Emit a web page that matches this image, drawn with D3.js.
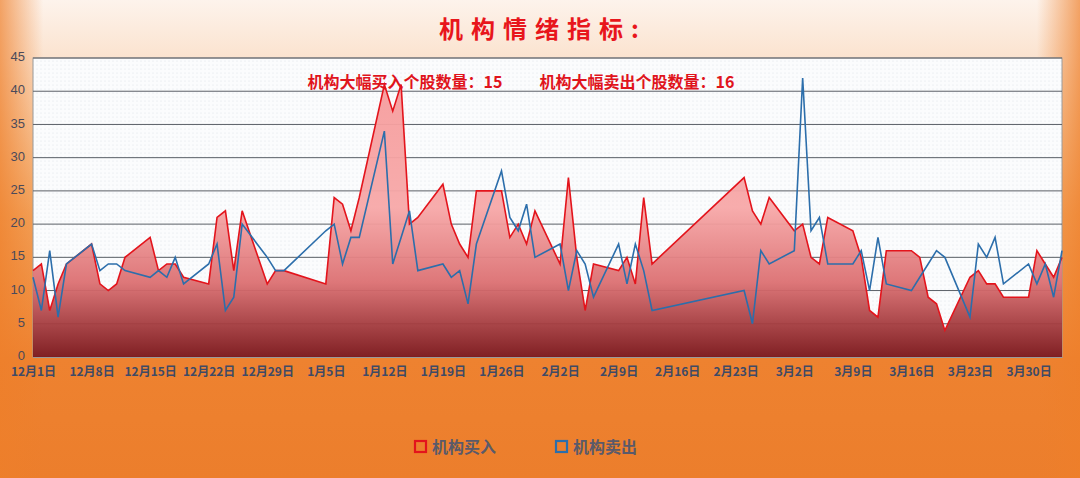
<!DOCTYPE html>
<html><head><meta charset="utf-8">
<script src="https://cdn.jsdelivr.net/npm/d3@7/dist/d3.min.js"></script>
<style>body{margin:0;}svg{display:block;}</style></head>
<body><svg id="c" width="1080" height="478"></svg>
<script>
const dates = ["2025-12-01","2025-12-02","2025-12-03","2025-12-04","2025-12-05",
"2025-12-08","2025-12-09","2025-12-10","2025-12-11","2025-12-12",
"2025-12-15","2025-12-16","2025-12-17","2025-12-18","2025-12-19",
"2025-12-22","2025-12-23","2025-12-24","2025-12-25","2025-12-26",
"2025-12-29","2025-12-30","2025-12-31",
"2026-01-05","2026-01-06","2026-01-07","2026-01-08","2026-01-09",
"2026-01-12","2026-01-13","2026-01-14","2026-01-15","2026-01-16",
"2026-01-19","2026-01-20","2026-01-21","2026-01-22","2026-01-23",
"2026-01-26","2026-01-27","2026-01-28","2026-01-29","2026-01-30",
"2026-02-02","2026-02-03","2026-02-04","2026-02-05","2026-02-06",
"2026-02-09","2026-02-10","2026-02-11","2026-02-12","2026-02-13",
"2026-02-24","2026-02-25","2026-02-26","2026-02-27",
"2026-03-02","2026-03-03","2026-03-04","2026-03-05","2026-03-06",
"2026-03-09","2026-03-10","2026-03-11","2026-03-12","2026-03-13",
"2026-03-16","2026-03-17","2026-03-18","2026-03-19","2026-03-20",
"2026-03-23","2026-03-24","2026-03-25","2026-03-26","2026-03-27",
"2026-03-30","2026-03-31","2026-04-01","2026-04-02","2026-04-03"];
const buyValues = [13,14,7,11,14, 17,11,10,11,15, 18,13,14,14,12, 11,21,22,13,22, 11,13,13,
11,24,23,19,24, 41,37,41,20,21, 26,20,17,15,25, 25,18,20,17,22, 14,27,15,7,14, 13,15,11,24,14,
27,22,20,24, 19,20,15,14,21, 19,15,7,6,16, 16,15,9,8,4, 12,13,11,11,9, 9,16,14,12,15];
const sellValues = [12,7,16,6,14, 17,13,14,14,13, 12,13,12,15,11, 14,17,7,9,20, 15,13,13,
19,20,14,18,18, 34,14,18,22,13, 14,12,13,8,17, 28,21,19,23,15, 17,10,16,14,9, 17,11,17,13,7,
10,5,16,14, 16,42,19,21,14, 14,16,10,18,11, 10,12,14,16,15, 6,17,15,18,11, 14,11,14,9,16];
const yTicks = [0,5,10,15,20,25,30,35,40,45];
const xTickDates = ["2025-12-01","2025-12-08","2025-12-15","2025-12-22","2025-12-29","2026-01-05","2026-01-12","2026-01-19","2026-01-26","2026-02-02","2026-02-09","2026-02-16","2026-02-23","2026-03-02","2026-03-09","2026-03-16","2026-03-23","2026-03-30"];
const titleText = "机构情绪指标:";
const subTexts = ["机构大幅买入个股数量：15","机构大幅卖出个股数量：16"];
const seriesNames = ["机构买入","机构卖出"];

const parse = d3.timeParse("%Y-%m-%d");
const data = dates.map((d,i)=>({t:parse(d), b:buyValues[i], s:sellValues[i]}));
const svg = d3.select("#c");
const W=1080,H=478, L=33,R=1062,T=58,B=357;
const defs = svg.append("defs");
const bg = defs.append("linearGradient").attr("id","bg").attr("x1",0).attr("y1",0).attr("x2",0).attr("y2",1);
bg.append("stop").attr("offset","0%").attr("stop-color","#fdf3ec");
bg.append("stop").attr("offset","12%").attr("stop-color","#fbe3cf");
bg.append("stop").attr("offset","45%").attr("stop-color","#f3a35c");
bg.append("stop").attr("offset","75%").attr("stop-color","#ee8230");
bg.append("stop").attr("offset","100%").attr("stop-color","#ec7e2c");
const sideg = defs.append("linearGradient").attr("id","side").attr("x1",0).attr("y1",0).attr("x2",1).attr("y2",0);
sideg.append("stop").attr("offset","0%").attr("stop-color","#ee7f2a").attr("stop-opacity",0.7);
sideg.append("stop").attr("offset","4%").attr("stop-color","#ee7f2a").attr("stop-opacity",0);
sideg.append("stop").attr("offset","96%").attr("stop-color","#ee7f2a").attr("stop-opacity",0);
sideg.append("stop").attr("offset","100%").attr("stop-color","#ee7f2a").attr("stop-opacity",0.7);
const ag = defs.append("linearGradient").attr("id","ag").attr("gradientUnits","userSpaceOnUse").attr("x1",0).attr("y1",T).attr("x2",0).attr("y2",B);
ag.append("stop").attr("offset","0%").attr("stop-color","#f69a9a");
ag.append("stop").attr("offset","50%").attr("stop-color","#f7a8a8");
ag.append("stop").attr("offset","75%").attr("stop-color","#dc7072");
ag.append("stop").attr("offset","100%").attr("stop-color","#7a1418");
const pat = defs.append("pattern").attr("id","dots").attr("width",4).attr("height",4).attr("patternUnits","userSpaceOnUse");
pat.append("rect").attr("width",4).attr("height",4).attr("fill","#fbfcfd");
pat.append("circle").attr("cx",1).attr("cy",1).attr("r",0.6).attr("fill","#dfe4ea");

svg.append("rect").attr("width",W).attr("height",H).attr("fill","url(#bg)");
svg.append("rect").attr("width",W).attr("height",H).attr("fill","url(#side)");
svg.append("rect").attr("x",L).attr("y",T).attr("width",R-L).attr("height",B-T).attr("fill","url(#dots)").attr("stroke","#9a9a9a");

const x = d3.scaleTime().domain([parse("2025-12-01"), parse("2026-04-03")]).range([L,R]);
const y = d3.scaleLinear().domain([0,45]).range([B,T]);

svg.append("g").selectAll("line").data(yTicks.slice(1)).join("line")
 .attr("x1",L).attr("x2",R).attr("y1",d=>y(d)).attr("y2",d=>y(d)).attr("stroke","#5a5f66").attr("stroke-width",1);

svg.append("path").datum(data).attr("fill","url(#ag)").attr("opacity",0.95)
 .attr("d", d3.area().x(d=>x(d.t)).y0(B).y1(d=>y(d.b)));
svg.append("path").datum(data).attr("fill","none").attr("stroke","#e3141c").attr("stroke-width",1.6)
 .attr("d", d3.line().x(d=>x(d.t)).y(d=>y(d.b)));
svg.append("path").datum(data).attr("fill","none").attr("stroke","#2c6eab").attr("stroke-width",1.6)
 .attr("d", d3.line().x(d=>x(d.t)).y(d=>y(d.s)));

const ya = svg.append("g").attr("transform",`translate(${L},0)`).call(d3.axisLeft(y).tickValues(yTicks).tickSize(0).tickPadding(8));
ya.select(".domain").remove();
ya.selectAll("text").attr("font-family","Liberation Sans, Arial").attr("font-size",13).attr("fill","#4a4a5a").attr("dy","0.2em");
const fmt = d3.timeFormat("%-m月%-d日");
const xa = svg.append("g").attr("transform",`translate(0,${B})`).call(d3.axisBottom(x).tickValues(xTickDates.map(parse)).tickFormat(fmt).tickSize(0).tickPadding(10));
xa.select(".domain").attr("stroke","#9a9a9a");
xa.selectAll("text").attr("font-family","Noto Sans CJK SC").attr("font-size",12).attr("font-weight","bold").attr("fill","#3e4a66");

svg.append("text").attr("x",543).attr("y",38).attr("text-anchor","middle").attr("font-family","Noto Sans CJK SC")
 .attr("font-size",24).attr("font-weight","bold").attr("letter-spacing",8).attr("fill","#e8161c").text(titleText);
[[405,subTexts[0]],[637,subTexts[1]]].forEach(([sx,t])=>{
 svg.append("text").attr("x",sx).attr("y",88).attr("text-anchor","middle").attr("font-family","Noto Sans CJK SC")
  .attr("font-size",16).attr("font-weight","bold").attr("fill","#e0141c").text(t);
});

const lg = svg.append("g");
[[415,"#e3141c",seriesNames[0]],[556,"#2c6eab",seriesNames[1]]].forEach(([lx,c,t])=>{
 lg.append("rect").attr("x",lx).attr("y",441).attr("width",11).attr("height",11).attr("fill","none").attr("stroke",c).attr("stroke-width",2.2);
 lg.append("text").attr("x",lx+17).attr("y",453).attr("font-family","Noto Sans CJK SC").attr("font-size",16).attr("font-weight","bold").attr("fill","#5a5a6a").text(t);
});
</script></body></html>
